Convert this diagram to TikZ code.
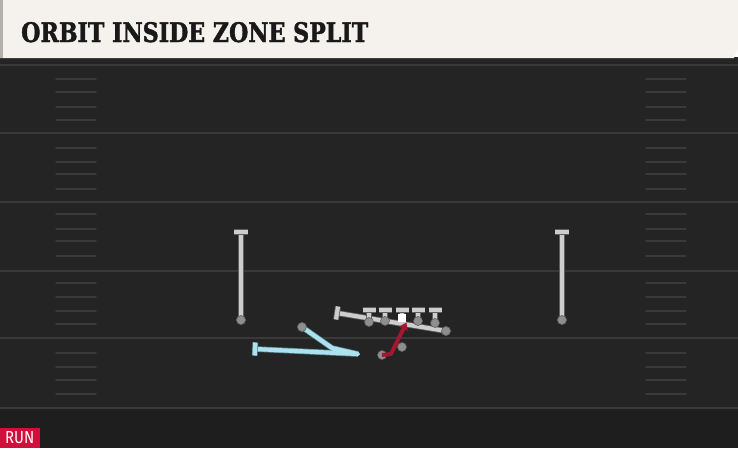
\documentclass[tikz,border=0pt]{standalone}
\usepackage{fontspec}
\usepackage{graphicx}
\newfontfamily\titlefont{DejaVu Serif Condensed}[FakeBold=1.6]
\newfontfamily\runfont{Fira Sans}
\usetikzlibrary{arrows.meta}
\definecolor{fieldbg}{HTML}{242424}
\definecolor{fieldlow}{HTML}{1E1E1E}
\definecolor{yardline}{HTML}{393939}
\definecolor{hashc}{HTML}{3A3A3A}
\definecolor{headbg}{HTML}{F5F2ED}
\definecolor{headedge}{HTML}{B4B1AD}
\definecolor{grayline}{HTML}{CDCDCD}
\definecolor{grayout}{HTML}{5E5E5E}
\definecolor{dotc}{HTML}{8E8E8E}
\definecolor{blueline}{HTML}{ABE2EE}
\definecolor{blueout}{HTML}{5C8C98}
\definecolor{redline}{HTML}{A3172F}
\definecolor{runred}{HTML}{D0103A}
\tikzset{
  x=1pt, y=-1pt,
  gline/.style={line width=4.2pt, draw=grayline, line cap=butt, line join=round,
    preaction={draw=grayout, line width=5.8pt}},
  bline/.style={line width=4.2pt, draw=blueline, line cap=round, line join=round,
    preaction={draw=blueout, line width=5.6pt}},
  rline/.style={line width=4pt, draw=redline, line join=round,
    -{Triangle[length=7pt,width=9pt]}},
  pdot/.style={circle, fill=dotc, draw=grayout, line width=0.6pt, inner sep=0pt, minimum size=9pt},
  ballsq/.style={rectangle, fill=white, inner sep=0pt, minimum size=8.5pt},
  yard/.style={draw=yardline, line width=2pt},
  hashm/.style={draw=hashc, line width=1.5pt, line cap=round},
}
\begin{document}
\begin{tikzpicture}
\useasboundingbox (0,0) rectangle (738,448);
% field
\fill[fieldbg] (0,58) rectangle (738,448);
\fill[fieldlow] (0,409) rectangle (738,448);
\fill[black!85] (0,57) rectangle (738,62);
% yard lines
\foreach \yy in {65,133,202,271,338,408}
  \draw[yard] (0,\yy) -- (738,\yy);
% hash marks
\foreach \yy in {79,92,107,120,148,162,174,189,214,229,241,256,283,297,311,324,353,367,380,394}{
  \draw[hashm] (56,\yy) -- (96,\yy);
  \draw[hashm] (646,\yy) -- (686,\yy);
}
% header
\fill[headbg] (0,0) -- (738,0) -- (738,49) -- (734,58) -- (0,58) -- cycle;
\fill[headedge] (0,0) rectangle (3,58);
\node[anchor=base west, inner sep=0pt, text=black!90] (title) at (21,42)
  {\resizebox{347pt}{20pt}{\titlefont\bfseries ORBIT INSIDE ZONE SPLIT}};
% RUN tag
\fill[runred] (0,428) rectangle (40,448);
\node[anchor=base west, inner sep=0pt, text=white] (runlbl) at (5,443)
  {\resizebox{29pt}{12pt}{\runfont RUN}};

% ---- receivers ----
\coordinate (wrlTop) at (241,232);
\coordinate (wrrTop) at (562,232);
\node[pdot] (wrl) at (241,320) {};
\node[pdot] (wrr) at (562,320) {};
\draw[gline] (wrl.center) -- (wrlTop);
\draw[gline] ([xshift=-7pt]wrlTop) -- ([xshift=7pt]wrlTop);
\draw[gline] (wrr.center) -- (wrrTop);
\draw[gline] ([xshift=-7pt]wrrTop) -- ([xshift=7pt]wrrTop);
\node[pdot] at (wrl) {};
\node[pdot] at (wrr) {};

% ---- H-back split block ----
\coordinate (hbEnd) at (337,313);
\node[pdot] (hb) at (446,331) {};
\draw[gline] (hb.center) -- (hbEnd);
\draw[gline] (338,306.5) -- (336,319.5);
\node[pdot] at (hb) {};

% ---- offensive line ----
\foreach \nm/\xx/\yy in {lt/369/322, lg/385/321, rg/418/321, rt/435/323}{
  \coordinate (\nm Top) at (\xx,310);
  \draw[gline] (\xx,\yy) -- (\nm Top);
  \draw[gline] ([xshift=-6.5pt]\nm Top) -- ([xshift=6.5pt]\nm Top);
}
\coordinate (cTop) at (402,310);
\draw[gline] (402,318) -- (cTop);
\draw[gline] ([xshift=-6.5pt]cTop) -- ([xshift=6.5pt]cTop);
\foreach \nm/\xx/\yy in {lt/369/322, lg/385/321, rg/418/321, rt/435/323}
  \node[pdot] (\nm) at (\xx,\yy) {};
\node[ballsq] (center) at (402,318) {};

% ---- orbit motion (blue) ----
\node[pdot] (wing) at (302,327) {};
\coordinate (orb1) at (332,348);
\coordinate (orb2) at (358,354);
\coordinate (orbEnd) at (255,349);
\draw[bline] (wing.center) -- (orb1) -- (orb2) -- (orbEnd);
\draw[bline, line cap=butt] (255.3,342.5) -- (254.7,355.5);
\node[pdot] at (wing) {};

% ---- QB / RB ----
\node[pdot] (rb) at (402,347) {};
\node[pdot] (qb) at (382,355) {};
\coordinate (qbTurn) at (391,354);
\draw[rline] (qb.center) -- (qbTurn) -- (center.south east);
\end{tikzpicture}
\end{document}
